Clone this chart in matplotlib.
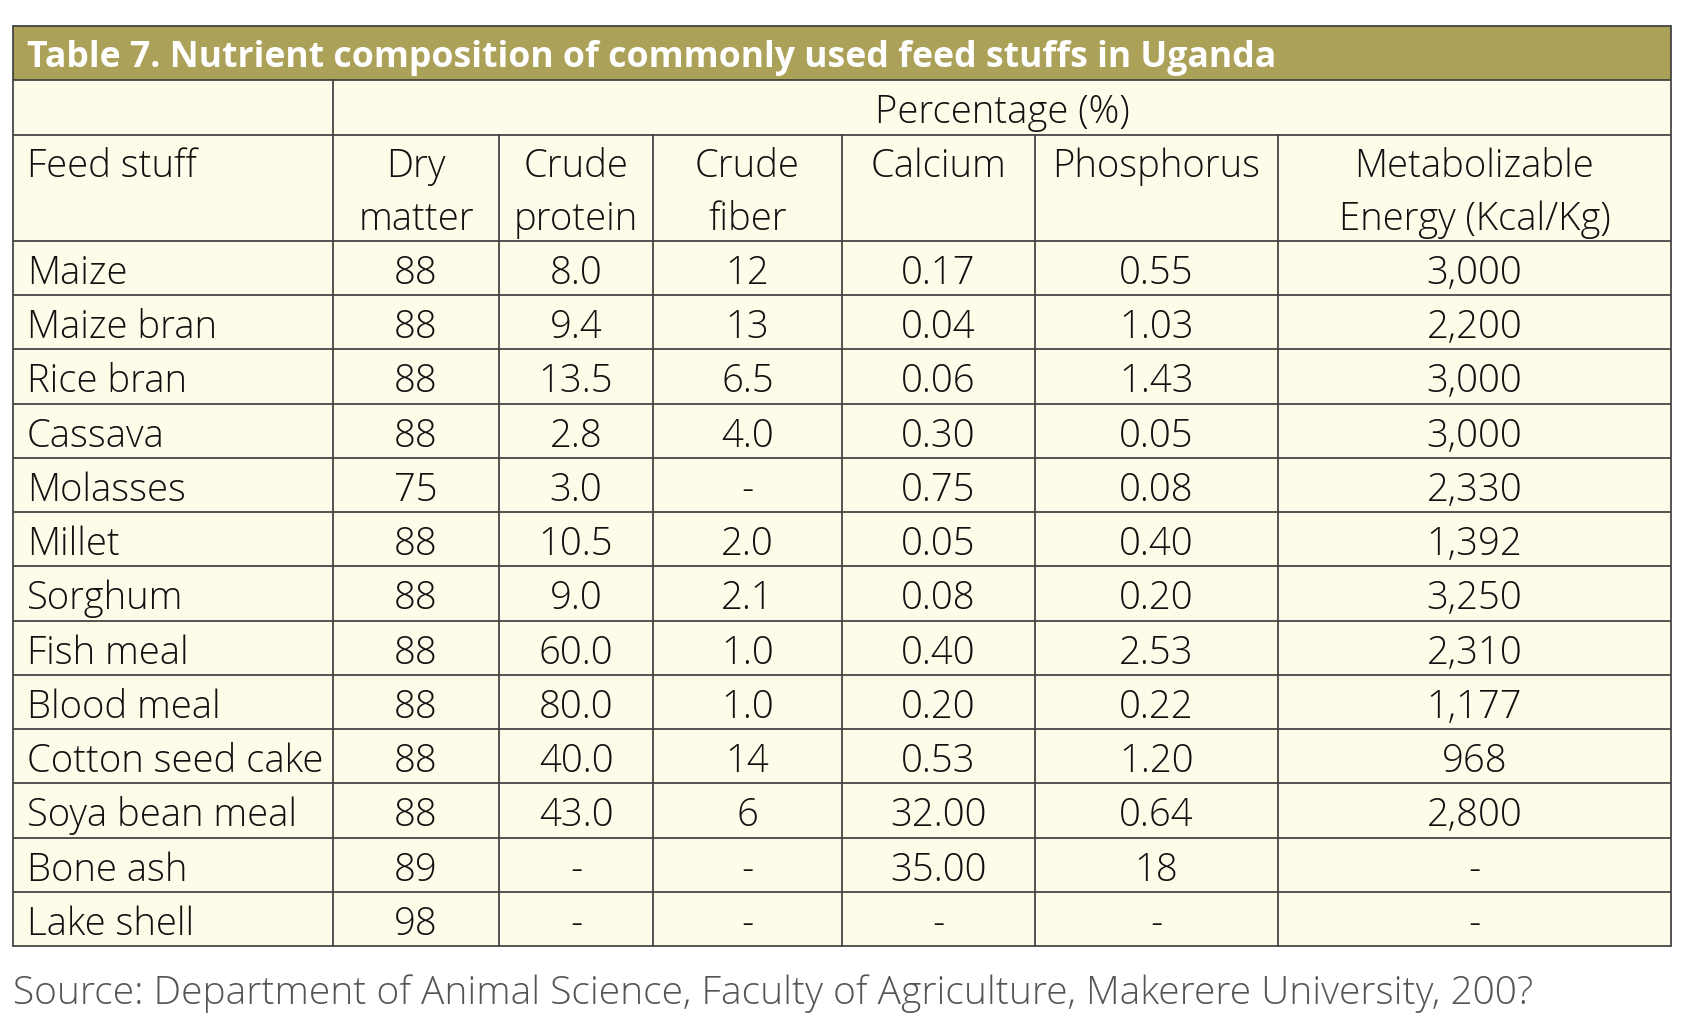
import matplotlib
matplotlib.use("Agg")
import matplotlib.pyplot as plt
from matplotlib.patches import Rectangle

# ---- data ----
title = "Table 7. Nutrient composition of commonly used feed stuffs in Uganda"
group_label = "Percentage (%)"
first_col_header = "Feed stuff"
col_headers = [("Dry", "matter"), ("Crude", "protein"), ("Crude", "fiber"),
               ("Calcium", ""), ("Phosphorus", ""), ("Metabolizable", "Energy (Kcal/Kg)")]
feeds = ["Maize", "Maize bran", "Rice bran", "Cassava", "Molasses", "Millet", "Sorghum",
         "Fish meal", "Blood meal", "Cotton seed cake", "Soya bean meal", "Bone ash", "Lake shell"]
dry_matter = ["88", "88", "88", "88", "75", "88", "88", "88", "88", "88", "88", "89", "98"]
crude_protein = ["8.0", "9.4", "13.5", "2.8", "3.0", "10.5", "9.0", "60.0", "80.0", "40.0", "43.0", "-", "-"]
crude_fiber = ["12", "13", "6.5", "4.0", "-", "2.0", "2.1", "1.0", "1.0", "14", "6", "-", "-"]
calcium = ["0.17", "0.04", "0.06", "0.30", "0.75", "0.05", "0.08", "0.40", "0.20", "0.53", "32.00", "35.00", "-"]
phosphorus = ["0.55", "1.03", "1.43", "0.05", "0.08", "0.40", "0.20", "2.53", "0.22", "1.20", "0.64", "18", "-"]
energy = ["3,000", "2,200", "3,000", "3,000", "2,330", "1,392", "3,250", "2,310", "1,177", "968", "2,800", "-", "-"]
source = "Source: Department of Animal Science, Faculty of Agriculture, Makerere University, 200?"

columns = [dry_matter, crude_protein, crude_fiber, calcium, phosphorus, energy]

# ---- layout (pixels) ----
W, H = 1694, 1036
col_edges = [13, 333, 499, 653, 842, 1035, 1278, 1671]
title_top, title_bot = 26, 80
pct_bot = 135
hdr_bot = 241
tab_bot = 946
n = len(feeds)
row_h = (tab_bot - hdr_bot) / n

bar_color = "#ABA158"
cell_color = "#FEFBE9"
line_color = "#3F3F3F"
lw = 1.25
fam = ["Open Sans", "DejaVu Sans"]

fig = plt.figure(figsize=(W / 100, H / 100), dpi=100)
ax = fig.add_axes([0, 0, 1, 1])
ax.set_xlim(0, W)
ax.set_ylim(H, 0)
ax.axis("off")

body = dict(family=fam, fontweight=300, fontsize=27.5, color="#111111")

# backgrounds
ax.add_patch(Rectangle((col_edges[0], title_top), col_edges[-1] - col_edges[0], title_bot - title_top,
                       facecolor=bar_color, edgecolor="none", zorder=1))
ax.add_patch(Rectangle((col_edges[0], title_bot), col_edges[-1] - col_edges[0], tab_bot - title_bot,
                       facecolor=cell_color, edgecolor="none", zorder=1))

# horizontal lines
ys = [title_top, title_bot, pct_bot, hdr_bot] + [hdr_bot + row_h * (i + 1) for i in range(n)]
for y in ys:
    ax.plot([col_edges[0], col_edges[-1]], [y, y], color=line_color, lw=lw, zorder=3,
            solid_capstyle="butt")
# vertical lines
ax.plot([col_edges[0], col_edges[0]], [title_top, tab_bot], color=line_color, lw=lw, zorder=3)
ax.plot([col_edges[-1], col_edges[-1]], [title_top, tab_bot], color=line_color, lw=lw, zorder=3)
ax.plot([col_edges[1], col_edges[1]], [title_bot, tab_bot], color=line_color, lw=lw, zorder=3)
for x in col_edges[2:-1]:
    ax.plot([x, x], [pct_bot, tab_bot], color=line_color, lw=lw, zorder=3)

# title
ax.text(27, title_top + 41, title, family=fam, fontweight="bold",
        fontsize=25.7, color="white", va="baseline", ha="left", zorder=4)

# percentage row
ax.text((col_edges[1] + col_edges[-1]) / 2, title_bot + 43, group_label, ha="center",
        va="baseline", zorder=4, **body)

# header row
ax.text(27, 177, first_col_header, ha="left", va="baseline", zorder=4, **body)
for j, (l1, l2) in enumerate(col_headers):
    cx = (col_edges[j + 1] + col_edges[j + 2]) / 2
    ax.text(cx, 177, l1, ha="center", va="baseline", zorder=4, **body)
    if l2:
        ax.text(cx, 230, l2, ha="center", va="baseline", zorder=4, **body)

# data rows
for i, feed in enumerate(feeds):
    yb = hdr_bot + row_h * i + 43
    ax.text(27, yb, feed, ha="left", va="baseline", zorder=4, **body)
    for j, col in enumerate(columns):
        cx = (col_edges[j + 1] + col_edges[j + 2]) / 2
        ax.text(cx, yb, col[i], ha="center", va="baseline", zorder=4, **body)

# source
ax.text(13, 1004, source, family=fam, fontweight=300, fontsize=28,
        color="#555555", ha="left", va="baseline")

fig.savefig("out.png", dpi=100, facecolor="white")
